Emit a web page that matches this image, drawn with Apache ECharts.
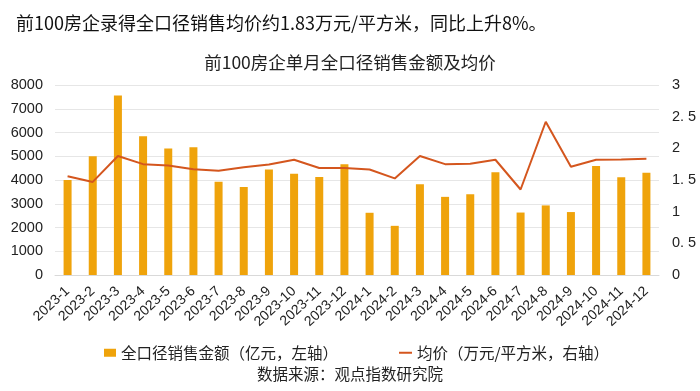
<!DOCTYPE html>
<html>
<head>
<meta charset="utf-8">
<script src="https://cdn.jsdelivr.net/npm/echarts@6/dist/echarts.min.js"></script>
<style>html,body{margin:0;padding:0;background:#fff}#c{width:700px;height:391px}</style>
</head>
<body>
<div id="c"></div>
<script>
const categories = ['2023-1','2023-2','2023-3','2023-4','2023-5','2023-6','2023-7','2023-8','2023-9','2023-10','2023-11','2023-12',
  '2024-1','2024-2','2024-3','2024-4','2024-5','2024-6','2024-7','2024-8','2024-9','2024-10','2024-11','2024-12'];
const salesAmount = [4000, 5000, 7560, 5840, 5330, 5380, 3930, 3710, 4440, 4260, 4130, 4660,
  2620, 2070, 3820, 3290, 3400, 4330, 2630, 2930, 2650, 4590, 4120, 4310];
const avgPrice = [1.56, 1.47, 1.88, 1.75, 1.73, 1.67, 1.645, 1.70, 1.745, 1.82, 1.69, 1.69,
  1.665, 1.525, 1.88, 1.75, 1.755, 1.82, 1.35, 2.42, 1.71, 1.82, 1.823, 1.834];
const leftTicks = {min: 0, max: 8000, interval: 1000};
const rightTicks = {min: 0, max: 3, interval: 0.5};
const headline = '前100房企录得全口径销售均价约1.83万元/平方米，同比上升8%。';
const chartTitle = '前100房企单月全口径销售金额及均价';
const barName = '全口径销售金额（亿元，左轴）';
const lineName = '均价（万元/平方米，右轴）';
const sourceText = '数据来源：观点指数研究院';

const FONT = '"Noto Sans CJK SC", "Noto Sans", sans-serif';
const NUMFONT = '"Liberation Sans", Arial, sans-serif';
const BAR_COLOR = '#EFA30B';
const LINE_COLOR = '#D4561E';
const chart = echarts.init(document.getElementById('c'), null, {renderer: 'canvas'});
chart.setOption({
  animation: false,
  textStyle: {fontFamily: FONT},
  title: [
    {text: headline, left: 11, top: 9, textStyle: {fontSize: 18, fontWeight: 'normal', color: '#111', fontFamily: FONT}},
    {text: chartTitle, left: 'center', top: 49, textStyle: {fontSize: 17.5, fontWeight: 'normal', color: '#222', fontFamily: FONT}},
    {text: sourceText, left: 'center', top: 361, textStyle: {fontSize: 15.5, fontWeight: 'normal', color: '#222', fontFamily: FONT}}
  ],
  legend: [
    {left: 99, top: 340, itemWidth: 12, itemHeight: 8, itemTextGap: 4,
     textStyle: {fontSize: 15.5, color: '#222', fontFamily: FONT},
     data: [{name: barName, icon: 'rect'}]},
    {left: 394, top: 340, itemWidth: 13, itemHeight: 2, itemTextGap: 3,
     textStyle: {fontSize: 15.5, color: '#222', fontFamily: FONT},
     data: [{name: lineName, icon: 'rect', itemStyle: {color: LINE_COLOR}}]}
  ],
  grid: {left: 55, right: 41, top: 85, bottom: 116},
  xAxis: {
    type: 'category', data: categories, boundaryGap: true,
    axisLine: {lineStyle: {color: '#d9d9d9'}},
    axisTick: {show: false},
    axisLabel: {rotate: 43, interval: 0, fontSize: 14, color: '#222', margin: 14, fontFamily: NUMFONT}
  },
  yAxis: [
    {type: 'value', min: leftTicks.min, max: leftTicks.max, interval: leftTicks.interval,
     axisLabel: {fontSize: 14.5, color: '#222', margin: 12, fontFamily: NUMFONT, formatter: v => String(v)},
     axisLine: {show: false}, axisTick: {show: false},
     splitLine: {lineStyle: {color: '#e6e6e6'}}},
    {type: 'value', min: rightTicks.min, max: rightTicks.max, interval: rightTicks.interval,
     axisLabel: {fontSize: 14.5, color: '#222', margin: 13, fontFamily: NUMFONT,
       formatter: v => String(v).replace('.', '. ')},
     axisLine: {show: false}, axisTick: {show: false}, splitLine: {show: false}}
  ],
  series: [
    {name: barName, type: 'bar', data: salesAmount, yAxisIndex: 0, barWidth: 8,
     itemStyle: {color: BAR_COLOR}},
    {name: lineName, type: 'line', data: avgPrice, yAxisIndex: 1, symbol: 'none',
     lineStyle: {color: LINE_COLOR, width: 2}, itemStyle: {color: LINE_COLOR}}
  ]
});
</script>
</body>
</html>
